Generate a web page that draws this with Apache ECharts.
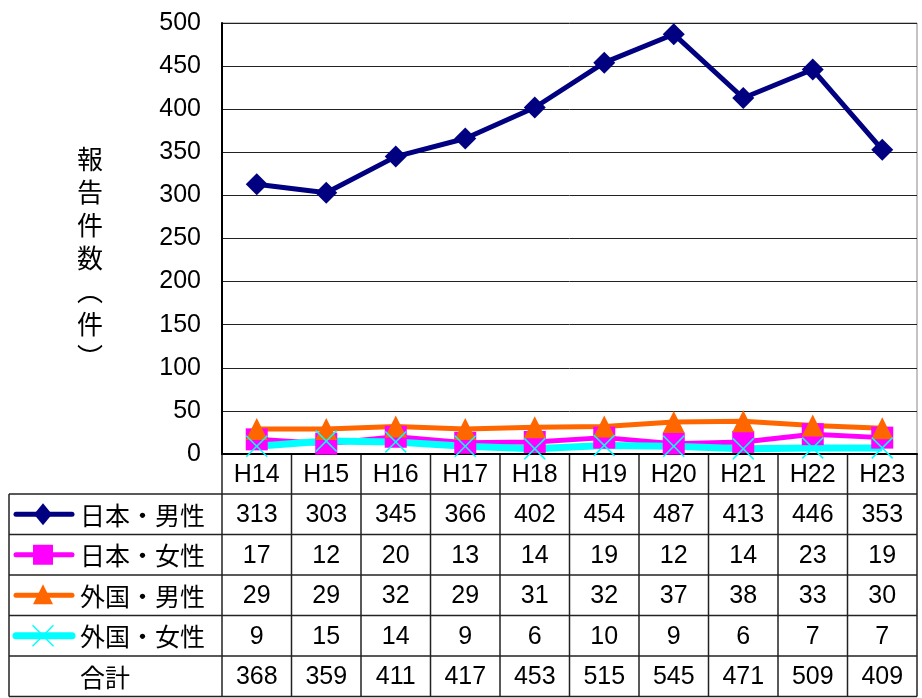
<!DOCTYPE html>
<html>
<head>
<meta charset="utf-8">
<script src="https://cdn.jsdelivr.net/npm/echarts@6/dist/echarts.min.js"></script>
<style>
  html, body { margin: 0; padding: 0; background: #fff; }
  #chart { width: 922px; height: 698px; }
</style>
</head>
<body>
<div id="chart"></div>
<script>
// データ
const categories = ['H14', 'H15', 'H16', 'H17', 'H18', 'H19', 'H20', 'H21', 'H22', 'H23']
const jpMale = [313, 303, 345, 366, 402, 454, 487, 413, 446, 353]
const jpFemale = [17, 12, 20, 13, 14, 19, 12, 14, 23, 19]
const fgMale = [29, 29, 32, 29, 31, 32, 37, 38, 33, 30]
const fgFemale = [9, 15, 14, 9, 6, 10, 9, 6, 7, 7]
const totals = [368, 359, 411, 417, 453, 515, 545, 471, 509, 409]
const yMin = 0
const yMax = 500
const yStep = 50

const font = '"Liberation Sans", Arial, "Noto Sans CJK JP", sans-serif'
const cjkFont = '"Noto Sans CJK JP", sans-serif'
const crossPath = 'path://M0,1L1,0L10,9L19,0L20,1L11,10L20,19L19,20L10,11L1,20L0,19L9,10Z'

const rows = [
  { name: '日本・男性', data: jpMale, color: '#000080', symbol: 'diamond', width: 5 },
  { name: '日本・女性', data: jpFemale, color: '#FF00FF', symbol: 'rect', width: 5 },
  { name: '外国・男性', data: fgMale, color: '#FF6600', symbol: 'triangle', width: 5 },
  { name: '外国・女性', data: fgFemale, color: '#00FFFF', symbol: crossPath, width: 7 },
]

let chart = echarts.init(document.getElementById('chart'))

let option = {
  animation: false,
  grid: {
    left: 222,
    right: 5,
    top: 23,
    bottom: 244,
    show: true,
    borderColor: '#888',
    borderWidth: 1,
  },
  xAxis: {
    type: 'category',
    data: categories,
    boundaryGap: true,
    axisLine: { lineStyle: { color: '#000', width: 2 } },
    axisTick: { show: false },
    axisLabel: {
      color: '#000',
      fontSize: 25,
      fontFamily: font,
      margin: 9,
    },
  },
  yAxis: {
    type: 'value',
    min: yMin,
    max: yMax,
    interval: yStep,
    axisLine: { show: true, lineStyle: { color: '#000', width: 2 } },
    axisTick: { show: false },
    axisLabel: {
      color: '#000',
      fontSize: 25,
      fontFamily: font,
      margin: 21,
    },
    splitLine: { lineStyle: { color: '#222', width: 1 } },
  },
  series: rows.map((r) => ({
    name: r.name,
    type: 'line',
    data: r.data,
    symbol: r.symbol,
    symbolSize: 22,
    showSymbol: true,
    lineStyle: { color: r.color, width: r.width },
    itemStyle: { color: r.color },
  })),
}

chart.setOption(option)

// 表（グラフの横軸位置から算出）
function buildTable() {
  let c0 = chart.convertToPixel({ xAxisIndex: 0 }, 0)
  let c1 = chart.convertToPixel({ xAxisIndex: 0 }, 1)
  let band = c1 - c0
  let axisY = chart.convertToPixel({ yAxisIndex: 0 }, 0)
  let gridLeft = c0 - band / 2
  let gridRight = gridLeft + band * categories.length
  let tableLeft = 9
  let headerH = 40
  let rowH = 40.5
  let lineStyle = { stroke: '#222', lineWidth: 1.5 }
  let els = []

  // 縦軸タイトル
  els.push({
    type: 'text',
    left: 77,
    top: 143,
    style: {
      text: '報\n告\n件\n数\n︵\n件\n︶',
      font: '26px ' + cjkFont,
      fill: '#000',
      lineHeight: 33,
      align: 'center',
    },
  })

  let allRows = rows.map((r) => ({ name: r.name, data: r.data, r: r }))
  allRows.push({ name: '合計', data: totals, r: null })
  let tableTop = axisY + headerH
  let tableBottom = tableTop + rowH * allRows.length

  // 縦線
  for (let i = 0; i <= categories.length; i++) {
    let x = gridLeft + band * i
    els.push({ type: 'line', shape: { x1: x, y1: axisY, x2: x, y2: tableBottom }, style: lineStyle })
  }
  els.push({ type: 'line', shape: { x1: tableLeft, y1: tableTop, x2: tableLeft, y2: tableBottom }, style: lineStyle })
  // 横線
  for (let j = 0; j <= allRows.length; j++) {
    let y = tableTop + rowH * j
    els.push({ type: 'line', shape: { x1: tableLeft, y1: y, x2: gridRight, y2: y }, style: lineStyle })
  }

  allRows.forEach((row, j) => {
    let cy = tableTop + rowH * (j + 0.5)
    // 数値
    row.data.forEach((v, i) => {
      let cx = chart.convertToPixel({ xAxisIndex: 0 }, i)
      els.push({
        type: 'text',
        x: cx,
        y: cy + 1,
        style: {
          text: String(v),
          font: '25px ' + font,
          fill: '#000',
          align: 'center',
          verticalAlign: 'middle',
        },
      })
    })
    // 凡例
    if (row.r) {
      let r = row.r
      els.push({
        type: 'line',
        shape: { x1: 16, y1: cy, x2: 72, y2: cy },
        style: { stroke: r.color, lineWidth: r.width, lineCap: 'round' },
      })
      let sx = 43
      let s = 10
      let shape
      if (r.symbol === 'diamond') {
        shape = { type: 'polygon', shape: { points: [[sx, cy - 11], [sx + 9, cy], [sx, cy + 11], [sx - 9, cy]] } }
      } else if (r.symbol === 'rect') {
        shape = { type: 'rect', shape: { x: sx - s, y: cy - s, width: s * 2, height: s * 2 } }
      } else if (r.symbol === 'triangle') {
        shape = { type: 'polygon', shape: { points: [[sx, cy - 11], [sx + 10, cy + 9], [sx - 10, cy + 9]] } }
      } else {
        shape = {
          type: 'polygon',
          shape: {
            points: [[sx - 11, cy - 10], [sx - 10, cy - 11], [sx, cy - 1], [sx + 10, cy - 11], [sx + 11, cy - 10], [sx + 1, cy],
              [sx + 11, cy + 10], [sx + 10, cy + 11], [sx, cy + 1], [sx - 10, cy + 11], [sx - 11, cy + 10], [sx - 1, cy]],
          },
        }
      }
      shape.style = { fill: r.color }
      els.push(shape)
    }
    els.push({
      type: 'text',
      x: 80,
      y: cy + 1,
      style: { text: row.name, font: '25px ' + cjkFont, fill: '#000', verticalAlign: 'middle' },
    })
  })

  chart.setOption({ graphic: { elements: els } })
}

buildTable()
</script>
</body>
</html>
